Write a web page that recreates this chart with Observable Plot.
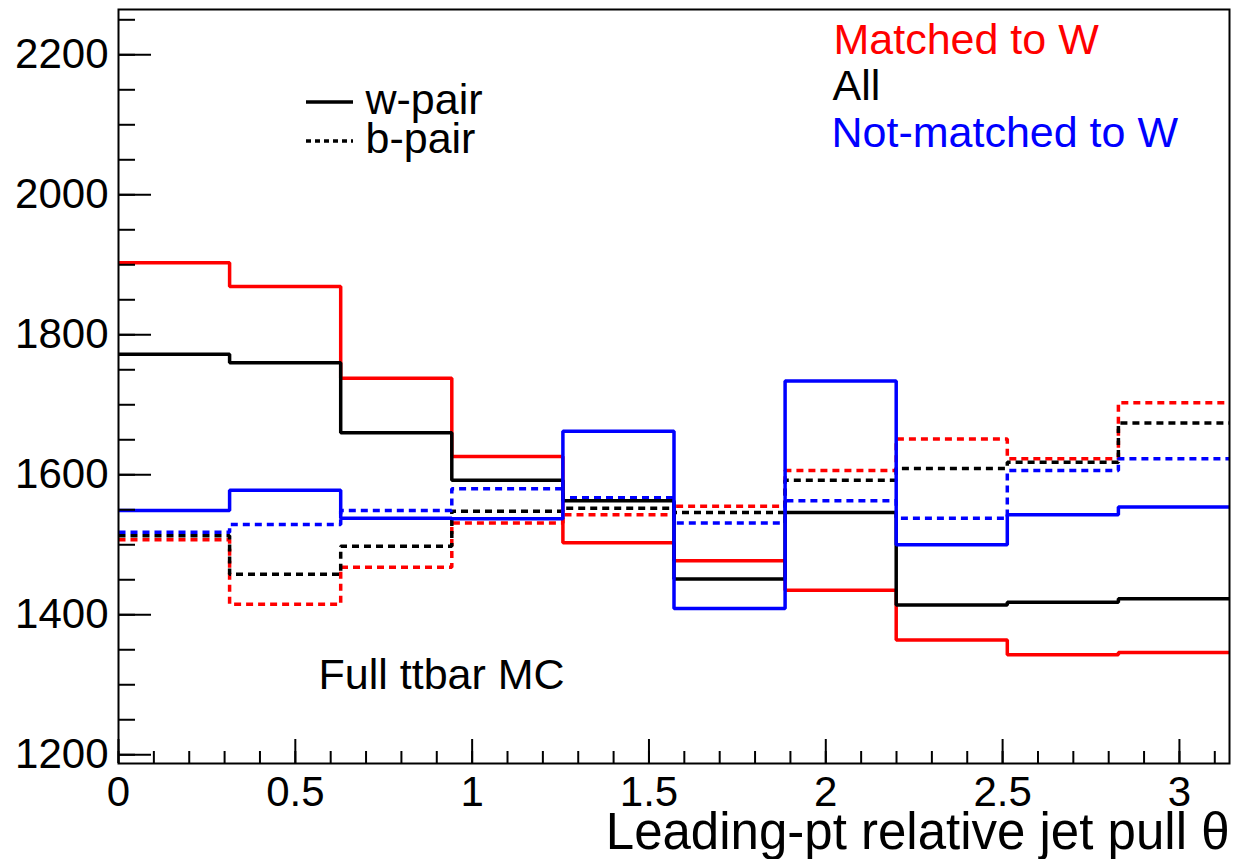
<!DOCTYPE html>
<html><head><meta charset="utf-8">
<script src="https://cdn.jsdelivr.net/npm/d3@7"></script>
<script src="https://cdn.jsdelivr.net/npm/@observablehq/plot@0.6"></script>
<style>
html,body{margin:0;padding:0;background:#fff;}
#chart{width:1234px;height:859px;}
</style></head><body><div id="chart"></div>
<script>
// Histogram: 10 bins over [0, pi]
const nBins = 10;
const xRange = [0, Math.PI];
// w-pair (solid)
const matchedW_wpair    = [1903, 1869, 1738, 1626, 1503, 1477, 1435, 1364, 1343, 1346];
const all_wpair         = [1772, 1760, 1660, 1592, 1563, 1451, 1546, 1414, 1418, 1423];
const notMatchedW_wpair = [1549, 1578, 1538, 1537, 1662, 1409, 1734, 1500, 1543, 1554];
// b-pair (dotted)
const matchedW_bpair    = [1507, 1415, 1468, 1531, 1543, 1555, 1606, 1651, 1623, 1703];
const all_bpair         = [1513, 1458, 1498, 1548, 1552, 1546, 1592, 1609, 1618, 1674];
const notMatchedW_bpair = [1518, 1529, 1549, 1580, 1567, 1531, 1563, 1538, 1606, 1623];

const xMajorTicks = [0, 0.5, 1, 1.5, 2, 2.5, 3];
const xMinorTicks = d3.range(0, 32).map(i => i / 10);
const yMajorTicks = [1200, 1400, 1600, 1800, 2000, 2200];
const yMinorTicks = d3.range(1200, 2251, 50);

const categoryLabels = ["Matched to W", "All", "Not-matched to W"];
const pairLabels = ["w-pair", "b-pair"];
const xTitle = "Leading-pt relative jet pull \u03b8";
const note = "Full ttbar MC";

// styles
const colors = {"Matched to W": "#ff0000", "All": "#000000", "Not-matched to W": "#0000ff"};
const dash = "7,5";

const W = 1234, H = 859;
const mL = 118, mR = 5, mT = 9, mB = 96;
const fw = W - mL - mR, fh = H - mT - mB;

function steps(values) {
  const bw = (xRange[1] - xRange[0]) / nBins;
  const pts = values.map((v, i) => ({x: xRange[0] + i * bw, y: v}));
  pts.push({x: xRange[1], y: values[values.length - 1]});
  return pts;
}

const series = [
  {name: "Matched to W", values: matchedW_bpair, dotted: true},
  {name: "All", values: all_bpair, dotted: true},
  {name: "Not-matched to W", values: notMatchedW_bpair, dotted: true},
  {name: "Matched to W", values: matchedW_wpair, dotted: false},
  {name: "All", values: all_wpair, dotted: false},
  {name: "Not-matched to W", values: notMatchedW_wpair, dotted: false},
];

const lineMarks = series.map(s => Plot.line(steps(s.values), {
  x: "x", y: "y", curve: "step-after",
  stroke: colors[s.name], strokeWidth: 3.5,
  strokeDasharray: s.dotted ? dash : null,
  strokeLinecap: "butt", strokeLinejoin: "miter"
}));

const font = "'Liberation Sans', Arial, Helvetica, sans-serif";

const plot = Plot.plot({
  width: W, height: H,
  marginLeft: mL, marginRight: mR, marginTop: mT, marginBottom: mB,
  style: {fontFamily: font, background: "#fff", color: "#000", overflow: "visible"},
  x: {domain: xRange},
  y: {domain: [1187.5, 2264.7]},
  marks: [
    ...lineMarks,
    // inward ticks
    Plot.tickX(xMinorTicks, {x: d => d, insetTop: fh - 12, stroke: "#000", strokeWidth: 2}),
    Plot.tickX(xMajorTicks, {x: d => d, insetTop: fh - 24, stroke: "#000", strokeWidth: 2}),
    Plot.tickY(yMinorTicks, {y: d => d, insetRight: fw - 17, stroke: "#000", strokeWidth: 2}),
    Plot.tickY(yMajorTicks, {y: d => d, insetRight: fw - 33, stroke: "#000", strokeWidth: 2}),
    Plot.axisX({ticks: xMajorTicks, tickSize: 0, tickPadding: 13, fontSize: 42, label: null, tickFormat: d => String(d)}),
    Plot.axisY({ticks: yMajorTicks, tickSize: 0, tickPadding: 10, fontSize: 42, label: null, tickFormat: d => String(d)}),
    Plot.frame({stroke: "#000", strokeWidth: 2}),
    // x title
    Plot.text([xTitle], {frameAnchor: "bottom-right", dy: 85, textAnchor: "end", lineAnchor: "bottom", fontSize: 51, fill: "#000"}),
    // category legend (coloured text)
    Plot.text([categoryLabels[0]], {frameAnchor: "top-left", dx: 715, dy: 44, textAnchor: "start", lineAnchor: "bottom", fontSize: 43, fill: colors[categoryLabels[0]]}),
    Plot.text([categoryLabels[1]], {frameAnchor: "top-left", dx: 714, dy: 90, textAnchor: "start", lineAnchor: "bottom", fontSize: 43, fill: colors[categoryLabels[1]]}),
    Plot.text([categoryLabels[2]], {frameAnchor: "top-left", dx: 713, dy: 137, textAnchor: "start", lineAnchor: "bottom", fontSize: 43, fill: colors[categoryLabels[2]]}),
    // line-style legend labels
    Plot.text([pairLabels[0]], {frameAnchor: "top-left", dx: 247, dy: 104, textAnchor: "start", lineAnchor: "bottom", fontSize: 43, fill: "#000"}),
    Plot.text([pairLabels[1]], {frameAnchor: "top-left", dx: 247, dy: 143, textAnchor: "start", lineAnchor: "bottom", fontSize: 43, fill: "#000"}),
    Plot.text([note], {frameAnchor: "top-left", dx: 200, dy: 679, textAnchor: "start", lineAnchor: "bottom", fontSize: 43, fill: "#000"}),
  ]
});

// legend key lines, drawn inside the plot's svg next to the labels
const svg = d3.select(plot);
const keyG = svg.append("g").attr("class", "legend-keys");
[{y: mT + 93, dotted: false}, {y: mT + 132, dotted: true}].forEach(k => {
  keyG.append("line")
    .attr("x1", mL + 188).attr("x2", mL + 235)
    .attr("y1", k.y).attr("y2", k.y)
    .attr("stroke", "#000").attr("stroke-width", 3.5)
    .attr("stroke-dasharray", k.dotted ? "5,4" : null);
});

document.getElementById("chart").appendChild(plot);
</script>
</body></html>
